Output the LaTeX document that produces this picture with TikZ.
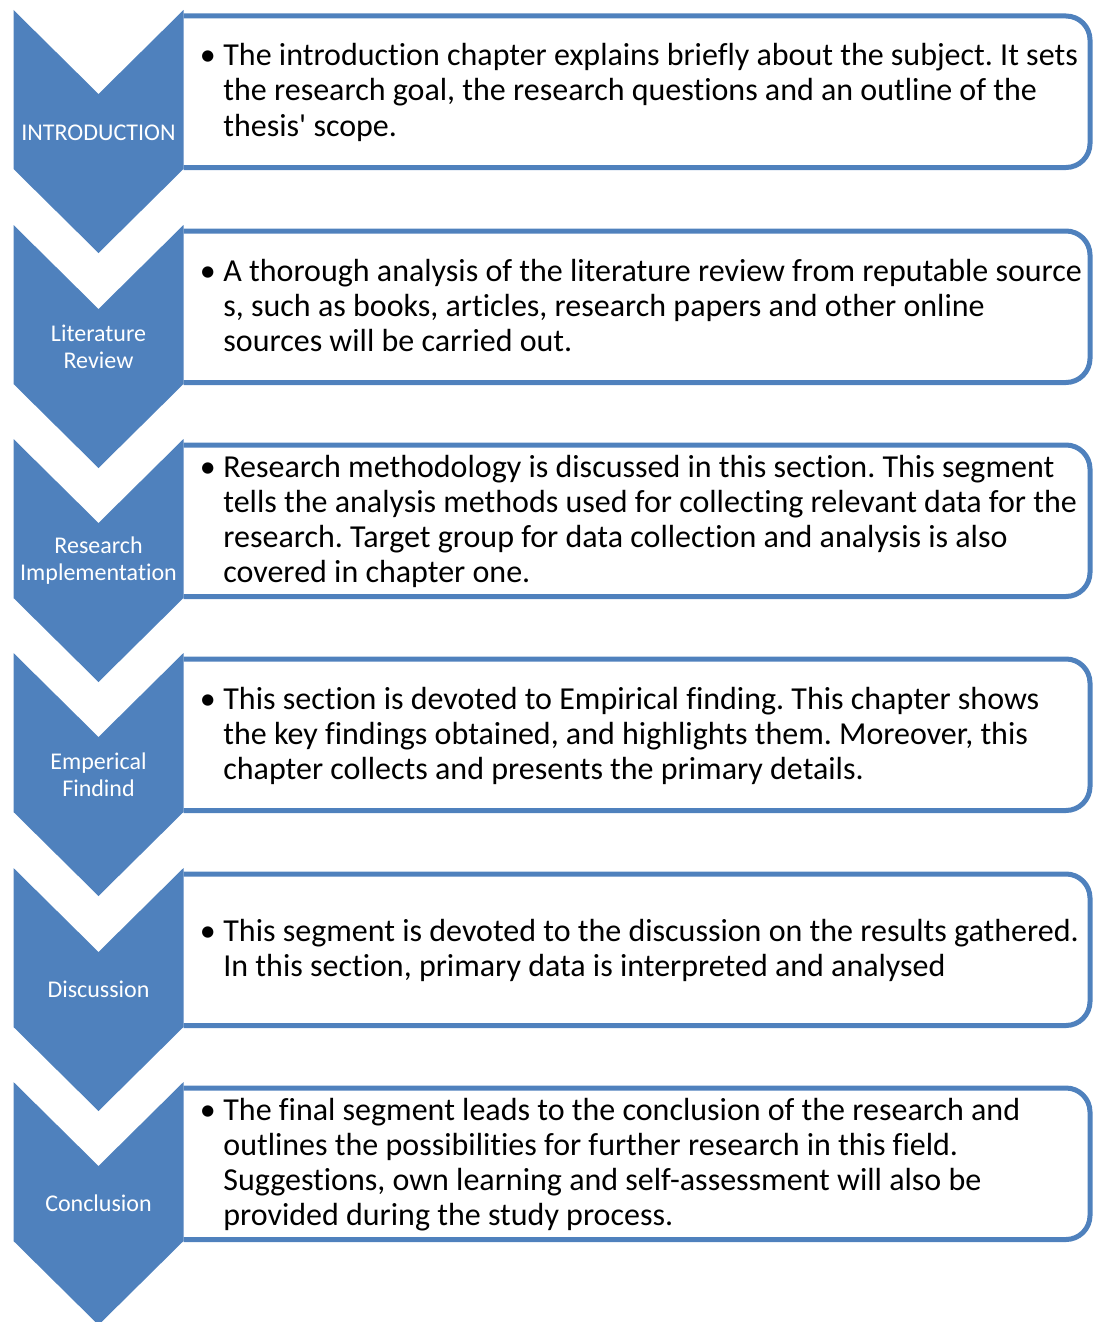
\documentclass[tikz,border=0pt]{standalone}
\usepackage{fontspec}
\setmainfont[Ligatures={TeX,NoCommon}]{Carlito}
\usepackage{tikz}
\usetikzlibrary{positioning}
\definecolor{chevc}{RGB}{79,129,189}
\frenchspacing
\newcommand{\chevron}[1]{%
  \fill[chevc] (13.5,#1) -- (98.5,#1+84) -- (183.5,#1) -- (183.5,#1+159) -- (98.5,#1+243) -- (13.5,#1+159) -- cycle;}
\newcommand{\stepbox}[1]{%
  \draw[chevc, line width=2.5pt, fill=white, rounded corners=12pt] (183.5,#1+6) -- (1090,#1+6) -- (1090,#1+157.5) -- (183.5,#1+157.5);}
\newcommand{\bulletlines}[1]{%
  \begin{tabular}{@{}p{11.75pt}@{}l@{}}\textbullet & #1\end{tabular}}
\tikzset{
  steplabel/.style={text=white, font=\fontsize{12}{13.5}\selectfont, align=center, inner sep=0pt},
  steptext/.style={anchor=west, inner sep=0pt, font=\fontsize{16}{17.5}\selectfont}
}

\begin{document}
\begin{tikzpicture}[x=0.5pt, y=-0.5pt]
  \useasboundingbox (0,0) rectangle (1093,1322);
  \stepbox{10}   \chevron{10}
  \stepbox{225}  \chevron{225}
  \stepbox{439}  \chevron{439}
  \stepbox{653}  \chevron{653}
  \stepbox{868}  \chevron{868}
  \stepbox{1082} \chevron{1082}
  % chevron labels
  \node[steplabel] (intro) at (98.5,132.5) {INTRODUCTION};
  \node[steplabel] (litrev) at (98.5,346.5) {Literature\\Review};
  \node[steplabel] (resimpl) at (98.5,560.5) {Research\\Implementation};
  \node[steplabel] (empfind) at (98.5,774.5) {Emperical\\Findind};
  \node[steplabel] (discuss) at (98.5,989.5) {Discussion};
  \node[steplabel] (concl) at (98.5,1203.5) {Conclusion};
  % box texts
  \node[steptext] (introtxt) at (199.5,94) {\bulletlines{The introduction chapter explains briefly about the subject. It sets\\
    & the research goal, the research questions and an outline of the\\ & thesis\textquotesingle{} scope.}};
  \node[steptext] (litrevtxt) at (199.5,309) {\bulletlines{A thorough analysis of the literature review from reputable source\\
    & s, such as books, articles, research papers and other online\\ & sources will be carried out.}};
  \node[steptext] (resimpltxt) at (199.5,523) {\bulletlines{Research methodology is discussed in this section. This segment\\
    & tells the analysis methods used for collecting relevant data for the\\
    & research. Target group for data collection and analysis is also\\ & covered in chapter one.}};
  \node[steptext] (empfindtxt) at (199.5,737) {\bulletlines{This section is devoted to Empirical finding. This chapter shows\\
    & the key findings obtained, and highlights them. Moreover, this\\ & chapter collects and presents the primary details.}};
  \node[steptext] (discusstxt) at (199.5,952) {\bulletlines{This segment is devoted to the discussion on the results gathered.\\
    & In this section, primary data is interpreted and analysed}};
  \node[steptext] (concltxt) at (199.5,1166) {\bulletlines{The final segment leads to the conclusion of the research and\\
    & outlines the possibilities for further research in this field.\\
    & Suggestions, own learning and self-assessment will also be\\ & provided during the study process.}};
\end{tikzpicture}
\end{document}
